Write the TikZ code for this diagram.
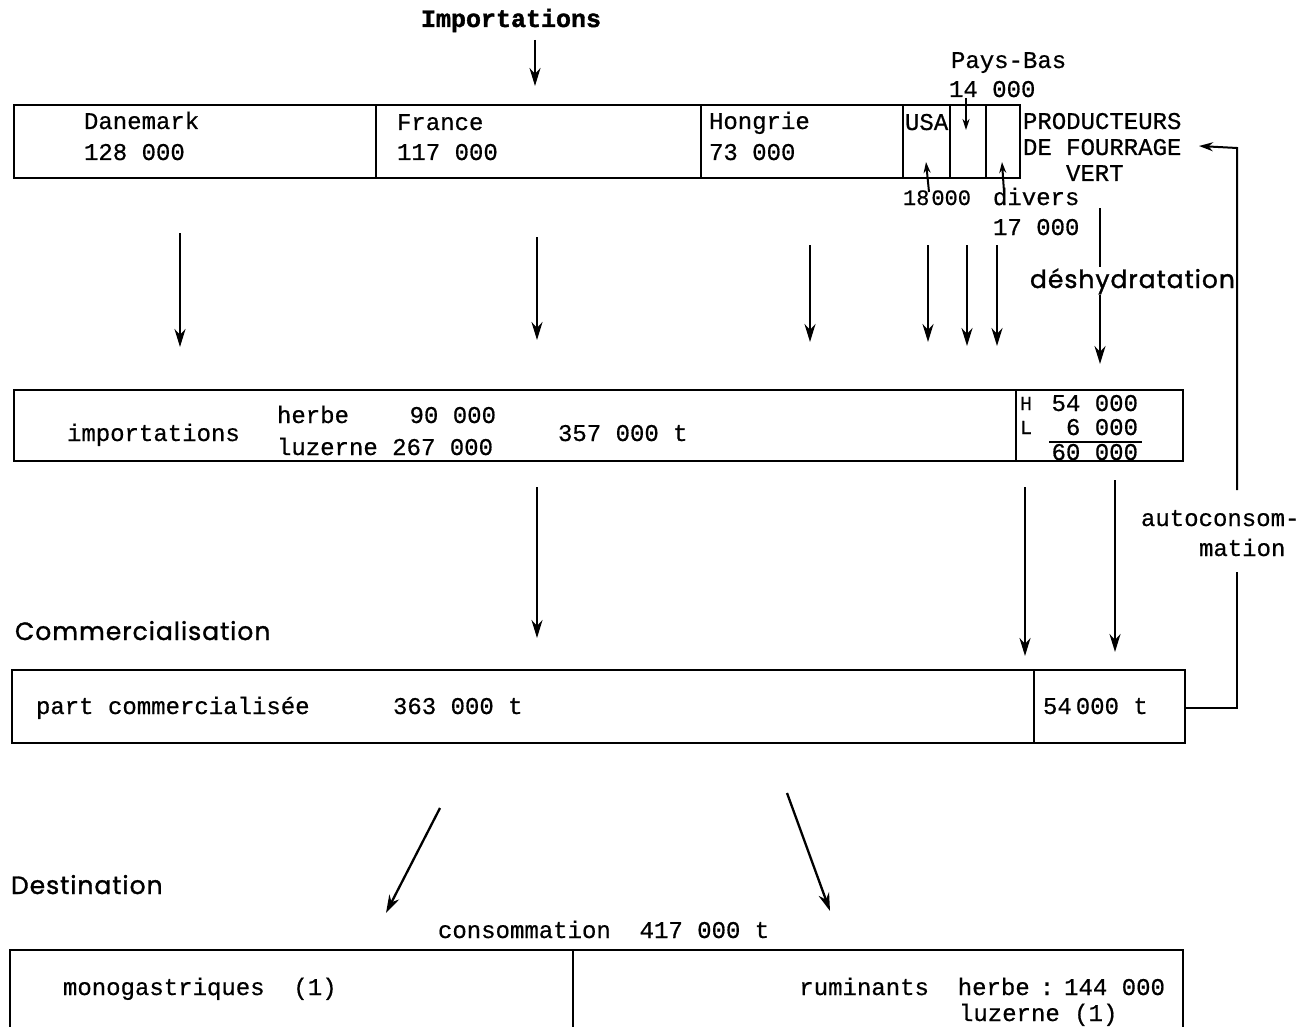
\documentclass[tikz,border=0pt]{standalone}
\usepackage{fontspec}
\setmainfont[FakeBold=0.6]{Liberation Mono}
\newfontfamily\titlefont[FakeBold=1.5]{Liberation Mono Bold}
\newfontfamily\headfont[LetterSpace=4,FakeBold=1.2]{Poppins}
\usetikzlibrary{arrows.meta}
\begin{document}
\begin{tikzpicture}[x=1pt,y=-1pt,line width=2pt,
  flow/.style={-{Stealth[length=18pt,width=11pt]},line width=2.3pt},
  link/.style={line width=2pt},
  tw/.style={anchor=base west,inner sep=0pt,font=\fontsize{24}{28}\selectfont},
  twe/.style={anchor=base east,inner sep=0pt,font=\fontsize{24}{28}\selectfont},
  small/.style={anchor=base west,inner sep=0pt,font=\fontsize{22}{24}\selectfont},
  head/.style={anchor=base west,inner sep=0pt,font=\headfont\fontsize{25}{30}\selectfont},
  title/.style={anchor=base west,inner sep=0pt,font=\titlefont\fontsize{25}{28}\selectfont}]
\useasboundingbox (0,0) rectangle (1316,1027);

% ---------- importing countries ----------
\node[title] (imp) at (420,27) {Importations};
\coordinate (impA) at (535,40);
\coordinate (impB) at (535,86);
\draw[flow] (impA) -- (impB);

\draw (14,105) rectangle (1020,178);
\foreach \x in {376,701,903,950,986} \draw (\x,105) -- (\x,178);

\node[tw] (dk)  at (83,129)  {Danemark};
\node[tw] (dkv) at (83,160)  {128 000};
\node[tw] (fr)  at (396,130) {France};
\node[tw] (frv) at (396,160) {117 000};
\node[tw] (hu)  at (708,129) {Hongrie};
\node[tw] (huv) at (708,160) {73 000};
\node[tw] (us)  at (904,130) {USA};

\node[tw] (nl)  at (950,68) {Pays-Bas};
\node[tw] (nlv) at (948,97) {14 000};
\coordinate (nlA) at (966,98);
\coordinate (nlB) at (966,130);
\draw[link,-{Stealth[length=11pt,width=7pt]}] (nlA) -- (nlB);

\node[small] (usv) at (902,205) {18\hspace{2pt}000};
\coordinate (usA) at (929,192);
\coordinate (usB) at (926,162);
\draw[link,-{Stealth[length=11pt,width=7pt]}] (usA) -- (usB);

\node[tw] (dv)  at (992,205) {divers};
\node[tw] (dvv) at (992,235) {17 000};
\coordinate (dvA) at (1004,192);
\coordinate (dvB) at (1002,162);
\draw[link,-{Stealth[length=11pt,width=7pt]}] (dvA) -- (dvB);

% ---------- green fodder producers ----------
\node[tw] (p1) at (1022,129) {PRODUCTEURS};
\node[tw] (p2) at (1022,155) {DE FOURRAGE};
\node[tw] (p3) at (1065,181) {VERT};

% ---------- flows towards the import total ----------
\foreach \x/\a/\b in {180/233/347, 537/237/340, 810/245/342, 928/245/342, 967/245/346, 997/245/346} {
  \draw[flow] (\x,\a) -- (\x,\b);
}

% dehydration flow
\coordinate (dhA) at (1100,208);
\coordinate (dhB) at (1100,364);
\draw[flow] (dhA) -- (dhB);
\node[head,fill=white,inner sep=1pt] (dh) at (1028,288) {déshydratation};

% ---------- imports total ----------
\draw (14,390) rectangle (1183,461);
\draw (1016,390) -- (1016,461);
\node[tw]  (it)  at (66,441)  {importations};
\node[tw]  (he)  at (276,423) {herbe};
\node[twe] (hev) at (497,423) {90 000};
\node[tw]  (lu)  at (276,455) {luzerne 267 000};
\node[tw]  (tot) at (557,441) {357 000 t};

\node[anchor=base west,inner sep=0pt,font=\fontsize{20}{22}\selectfont] (hH) at (1019,410) {H};
\node[anchor=base west,inner sep=0pt,font=\fontsize{20}{22}\selectfont] (hL) at (1019,434) {L};
\node[twe] (hHv) at (1139,411) {54 000};
\node[twe] (hLv) at (1139,435) {6 000};
\draw[line width=1.6pt] (1049,442) -- (1142,442);
\node[twe] (hT)  at (1139,460) {60 000};

% ---------- flows towards the market ----------
\draw[flow] (537,487) -- (537,638);
\draw[flow] (1025,487) -- (1025,656);
\draw[flow] (1115,480) -- (1115,652);

\node[head] (com) at (14,640) {Commercialisation};

\draw (12,670) rectangle (1185,743);
\draw (1034,670) -- (1034,743);
\node[tw] (pc)  at (35,714)   {part commercialisée};
\node[tw] (pcv) at (392,714)  {363 000 t};
\node[tw] (own) at (1042,714) {54\hspace{4pt}000 t};

% on-farm use loop back to the producers
\node[tw] (ac1) at (1140,526) {autoconsom-};
\node[tw] (ac2) at (1198,556) {mation};
\coordinate (acA) at (1185,708);
\coordinate (acB) at (1237,708);
\coordinate (acC) at (1237,148);
\coordinate (acD) at (1199,146);
\draw[link] (acA) -- (acB) -- (1237,572);
\draw[link,-{Stealth[length=14pt,width=9pt]}] (1237,490) -- (acC) -- (acD);

% ---------- destination ----------
\draw[flow] (440,808) -- (386,913);
\draw[flow] (787,793) -- (830,911);

\node[head] (dst) at (10,894) {Destination};
\node[tw] (cons) at (437,938) {consommation\ \ 417 000 t};

\draw (10,1030) -- (10,950) -- (1183,950) -- (1183,1030);
\draw (573,950) -- (573,1030);
\node[tw]  (mono) at (62,995)   {monogastriques\ \ (1)};
\node[twe] (rum)  at (1166,995) {ruminants\ \ herbe\hspace{10pt}:\hspace{10pt}144 000};
\node[tw]  (rlu)  at (958,1021) {luzerne (1)};
\end{tikzpicture}
\end{document}
